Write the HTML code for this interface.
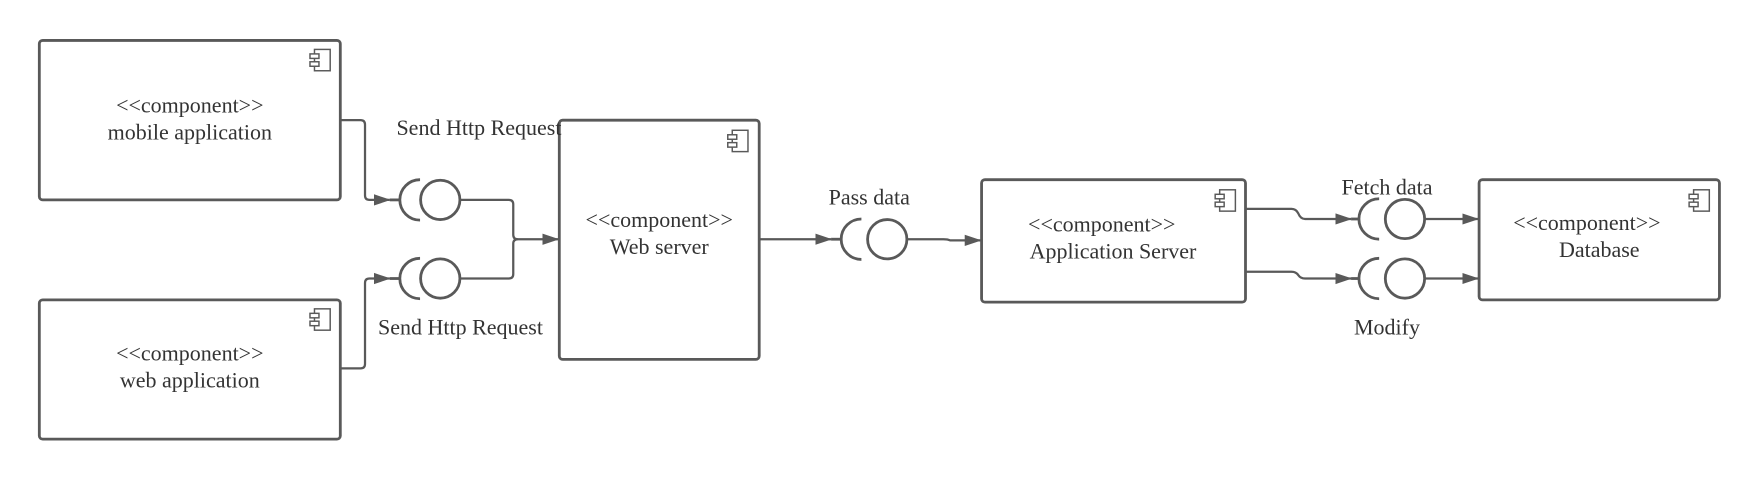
<!DOCTYPE html>
<html><head><meta charset="utf-8"><style>
html,body{margin:0;padding:0;background:#fff;width:1761px;height:480px;overflow:hidden}
svg{display:block}
text{font-family:"Liberation Serif",serif;font-size:19.6px;fill:#333}
</style></head><body>
<svg width="1761" height="480" viewBox="0 0 1568 427.4" xmlns="http://www.w3.org/2000/svg">
<defs>
<marker id="a" markerWidth="16" markerHeight="12" refX="14" refY="6" orient="auto" markerUnits="userSpaceOnUse">
<path d="M0,1 L15,6 L0,11 Z" fill="#595959"/></marker>
<g id="ic"><rect x="4" y="0" width="14" height="19" fill="#fff" stroke="#595959" stroke-width="1.3"/>
<rect x="0" y="4" width="8" height="4" fill="#fff" stroke="#595959" stroke-width="1.3"/>
<rect x="0" y="11" width="8" height="4" fill="#fff" stroke="#595959" stroke-width="1.3"/></g>
</defs>
<g fill="none" stroke="#595959" stroke-width="2.5">
<rect x="35" y="36" width="268" height="142" rx="3"/>
<rect x="35" y="267" width="268" height="124" rx="3"/>
<rect x="498" y="107" width="178" height="213" rx="3"/>
<rect x="874" y="160" width="235" height="109" rx="3"/>
<rect x="1317" y="160" width="214" height="107" rx="3"/>
</g>
<use href="#ic" x="276" y="44"/>
<use href="#ic" x="276" y="275"/>
<use href="#ic" x="648" y="116"/>
<use href="#ic" x="1082" y="169"/>
<use href="#ic" x="1504" y="169"/>
<g fill="none" stroke="#595959" stroke-width="2">
<path d="M303,107 H321 Q325,107 325,111 V174 Q325,178 329,178 H347" marker-end="url(#a)"/>
<path d="M303,328 H321 Q325,328 325,324 V252 Q325,248 329,248 H347" marker-end="url(#a)"/>
<path d="M409,178 H453 Q457,178 457,182 V209 Q457,213 461,213 H497" marker-end="url(#a)"/>
<path d="M409,248 H453 Q457,248 457,244 V217 Q457,213 461,213"/>
<path d="M676,213 H740" marker-end="url(#a)"/>
<path d="M808,213 H840 Q844,213 846,214 H873" marker-end="url(#a)"/>
<path d="M1109,186 H1150 Q1154,186 1156,190 Q1158,195 1162,195 H1203" marker-end="url(#a)"/>
<path d="M1109,242 H1150 Q1154,242 1156,245 Q1158,248 1162,248 H1203" marker-end="url(#a)"/>
<path d="M1269,195 H1316" marker-end="url(#a)"/>
<path d="M1269,248 H1316" marker-end="url(#a)"/>
</g>
<g fill="none" stroke="#595959" stroke-width="2.5">
<path d="M347,178 H356"/><path d="M374,160 A18,18 0 0 0 374,196"/><circle cx="392" cy="178" r="17.5"/>
<path d="M347,248 H356"/><path d="M374,230 A18,18 0 0 0 374,266"/><circle cx="392" cy="248" r="17.5"/>
<path d="M740,213 H749"/><path d="M767,195 A18,18 0 0 0 767,231"/><circle cx="790" cy="213" r="17.5"/>
<path d="M1203,195 H1211"/><path d="M1228,177 A18,18 0 0 0 1228,213"/><circle cx="1251" cy="195" r="17.5"/>
<path d="M1203,248 H1211"/><path d="M1228,230 A18,18 0 0 0 1228,266"/><circle cx="1251" cy="248" r="17.5"/>
</g>
<g text-anchor="middle">
<text x="169" y="100">&lt;&lt;component&gt;&gt;</text><text x="169" y="124">mobile application</text>
<text x="169" y="321">&lt;&lt;component&gt;&gt;</text><text x="169" y="345">web application</text>
<text x="587" y="202">&lt;&lt;component&gt;&gt;</text><text x="587" y="226">Web server</text>
<text x="981" y="206">&lt;&lt;component&gt;&gt;</text><text x="991" y="230">Application Server</text>
<text x="1413" y="205">&lt;&lt;component&gt;&gt;</text><text x="1424" y="229">Database</text>
<text x="774" y="182">Pass data</text>
<text x="1235" y="173">Fetch data</text>
<text x="1235" y="298">Modify</text>
<text x="410" y="298">Send Http Request</text>
</g>
<text x="353" y="120">Send Http Request</text>
</svg>
</body></html>
